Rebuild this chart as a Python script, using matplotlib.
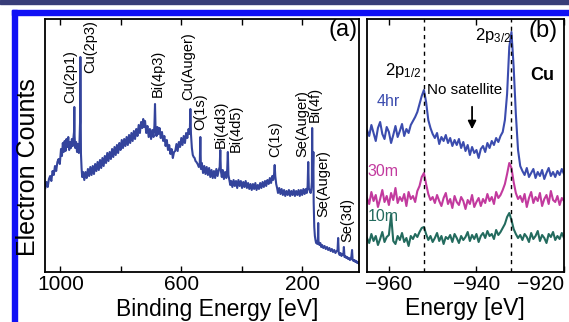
import numpy as np
import matplotlib
matplotlib.use('Agg')
import matplotlib.pyplot as plt
from matplotlib.patches import Rectangle

plt.rcParams['font.family'] = ['Liberation Sans', 'DejaVu Sans']
plt.rcParams['mathtext.fontset'] = 'custom'
plt.rcParams['mathtext.rm'] = 'Liberation Sans'
plt.rcParams['mathtext.it'] = 'Liberation Sans:italic'
plt.rcParams['mathtext.bf'] = 'Liberation Sans:bold'

# (a) survey spectrum, binding energy [eV] and counts (arb.)
survey_e = [1050, 1046, 1042, 1038, 1034, 1030, 1026, 1022, 1018, 1014, 1010, 1006, 1002, 998, 995,
            992, 989, 986, 983, 980, 977, 974, 971, 968, 965, 962, 959, 957, 955, 954, 953, 951,
            948, 945, 942, 939, 937, 935, 934, 933, 932, 930, 928, 925, 921, 917, 913, 909, 905,
            901, 897, 893, 889, 885, 881, 877, 873, 869, 865, 861, 857, 853, 849, 845, 841, 837,
            833, 829, 825, 821, 817, 813, 809, 805, 801, 797, 793, 789, 785, 781, 777, 773, 769,
            765, 761, 757, 753, 749, 745, 741, 737, 733, 729, 726, 723, 720, 716, 712, 708, 704,
            700, 696, 692, 689, 687, 685, 682, 679, 676, 672, 668, 664, 660, 656, 652, 648, 644,
            640, 636, 632, 628, 624, 620, 616, 612, 608, 604, 600, 596, 592, 588, 584, 580, 576,
            572, 570, 568, 565, 562, 559, 556, 553, 550, 546, 542, 539, 537, 535, 532, 528, 524,
            520, 516, 512, 508, 504, 500, 496, 492, 488, 484, 480, 476, 473, 471, 469, 466, 463,
            459, 455, 451, 448, 446, 444, 441, 438, 435, 431, 427, 423, 419, 415, 411, 407, 403,
            399, 395, 391, 387, 383, 379, 375, 371, 367, 363, 359, 355, 351, 347, 343, 339, 335,
            331, 327, 323, 319, 315, 311, 307, 303, 299, 296, 293, 291, 289, 286, 283, 280, 276,
            272, 268, 264, 260, 256, 252, 248, 244, 240, 236, 232, 228, 224, 220, 216, 212, 208,
            204, 200, 196, 192, 188, 185, 182, 180, 178, 175, 172, 170, 168, 167, 166, 165, 163,
            162, 160, 158, 156, 154, 152, 150, 148, 147, 146, 143, 140, 137, 134, 130, 126, 122,
            118, 114, 110, 106, 102, 98, 94, 90, 86, 83, 81, 79, 76, 73, 70, 67, 64, 62, 60, 57,
            54, 51, 48, 45, 42, 39, 37, 35, 33, 30, 27, 24, 21, 18, 15, 12]
survey_counts = [84, 90, 85, 93, 96, 91, 101, 97, 106, 101, 110, 113, 108, 123, 116,
                 129, 120, 131, 121, 133, 125, 135, 122, 130, 124, 133, 126, 134, 140, 165, 136, 124,
                 130, 120, 128, 119, 129, 150, 215, 160, 118, 104, 95, 100, 92, 100, 94, 103, 96,
                 105, 97, 106, 98, 108, 101, 110, 102, 112, 104, 114, 106, 116, 109, 119, 111, 120,
                 113, 123, 115, 125, 117, 127, 119, 129, 122, 132, 124, 133, 126, 135, 127, 137, 129,
                 139, 131, 141, 133, 143, 136, 147, 139, 150, 144, 153, 145, 151, 139, 146, 135, 143,
                 133, 142, 135, 146, 168, 141, 136, 145, 138, 144, 134, 140, 131, 136, 126, 132, 122,
                 127, 118, 123, 114, 120, 121, 128, 121, 130, 125, 134, 127, 136, 129, 139, 134, 143,
                 138, 163, 138, 124, 117, 115, 114, 111, 110, 108, 105, 107, 135, 103, 109, 99, 106,
                 98, 105, 97, 104, 95, 102, 94, 101, 94, 103, 96, 102, 105, 122, 101, 95, 102,
                 93, 100, 94, 103, 120, 97, 92, 87, 91, 85, 92, 86, 91, 84, 92, 86, 91,
                 84, 90, 85, 91, 84, 89, 83, 88, 82, 88, 83, 89, 82, 87, 83, 89, 84,
                 90, 85, 91, 86, 92, 88, 94, 89, 96, 92, 98, 107, 96, 88, 84, 79, 84,
                 78, 83, 77, 82, 76, 81, 77, 82, 76, 81, 77, 82, 76, 81, 77, 82, 76,
                 82, 77, 83, 78, 83, 79, 86, 110, 84, 81, 79, 82, 90, 144, 100, 96, 120,
                 70, 45, 36, 32, 29, 31, 28, 33, 49, 31, 27, 29, 25, 27, 24, 26, 23,
                 25, 22, 24, 21, 23, 20, 22, 19, 21, 22, 34, 19, 17, 19, 16, 18, 17, 25, 15, 16,
                 14, 15, 13, 14, 12, 13, 16, 22, 12, 11, 12, 10, 11, 9, 10, 8]

survey_labels = ['Cu(2p1)', 'Cu(2p3)', 'Bi(4p3)', 'Cu(Auger)', 'O(1s)', 'Bi(4d3)', 'Bi(4d5)',
                 'C(1s)', 'Se(Auger)', 'Bi(4f)', 'Se(Auger)', 'Se(3d)']
label_e = [967, 901, 679, 577, 537, 471, 421, 289, 200, 157, 131, 51]
label_v = [169, 199, 175, 172, 142, 124, 120, 115, 115, 150, 55, 30]

# (b) Cu 2p region for three deposition times
cu_e = np.arange(-965.0, -919.75, 0.5)
cu_4hr = [142, 136, 147, 139, 131, 144, 150, 138, 133, 145, 140, 129, 137, 146, 135, 141, 148, 136, 143, 139, 147,
          151, 155, 160, 168, 176, 182, 170, 152, 144, 138,
          134, 139, 128, 135, 131, 137,
          129, 134, 126, 132, 127, 133, 124, 130,
          121, 127, 117, 125, 119, 122, 114, 123,
          126, 120, 129, 124, 131, 127, 134, 130,
          136, 140, 152, 178, 225, 240, 205, 158, 122, 106,
          101, 97, 104, 95, 99, 103, 94, 100, 96, 102, 93, 99, 104, 96, 100, 95, 101, 97, 103, 98]
cu_30m = [74, 68, 80, 71, 77, 65, 73, 82, 70, 76, 67, 79, 72, 84, 69, 75, 71, 78, 66, 80, 73,
          76, 70, 81, 86, 95, 99, 88, 78, 72, 75,
          69, 77, 71, 66, 74, 79,
          68, 73, 64, 76, 70, 67, 75, 71,
          63, 72, 68, 77, 65, 70, 74, 66,
          73, 69, 78, 71, 75, 68, 80, 74,
          77, 82, 88, 98, 109, 104, 90, 79, 73, 76,
          70, 78, 65, 74, 80, 69, 75, 71, 79, 66, 73, 77, 68, 81, 72, 70, 76, 67, 74, 71]
cu_10m = [34, 29, 38, 31, 36, 27, 33, 40, 30, 35, 37, 57, 31, 28, 36, 32, 39, 30, 34, 26, 36,
          33, 38, 35, 40, 44, 45, 38, 32, 36, 30,
          34, 39, 31, 36, 28, 35,
          33, 37, 30, 38, 34, 29, 36, 32,
          35, 40, 31, 37, 33, 38, 30, 36,
          39, 34, 41, 36, 38, 33, 42, 37,
          40, 44, 48, 55, 59, 52, 43, 38, 34, 37,
          32, 38, 35, 30, 39, 33, 36, 41, 31, 37, 34, 29, 38, 35, 40, 32, 36, 33, 39, 34]
peak_e = [-952.0, -932.2]

W, H = 569, 322
fig = plt.figure(figsize=(W / 100, H / 100), dpi=100)

# frame of the page the figure was cut from
fig.patches.append(Rectangle((0, 1 - 4 / H), 1, 4 / H, transform=fig.transFigure, color='#383d78', zorder=0))
fig.patches.append(Rectangle((12 / W, 1 - 15 / H), 1, 5 / H, transform=fig.transFigure, color='#1010f5', zorder=0))
fig.patches.append(Rectangle((12 / W, 0), 5 / W, 1 - 10 / H, transform=fig.transFigure, color='#1010f5', zorder=0))

ax1 = fig.add_axes([45 / W, 50 / H, 314 / W, 253 / H])
ax2 = fig.add_axes([367 / W, 50 / H, 197 / W, 253 / H])

ax1.plot(survey_e, survey_counts, color='#34449c', lw=1.5)
ax1.set_xlim(1051, 12)
ax1.set_ylim(0, 253)
ax1.set_xticks([1000, 800, 600, 400, 200])
ax1.set_xticklabels(['1000', '', '600', '', '200'])
for lab, e, v in zip(survey_labels, label_e, label_v):
    ax1.text(e, v, lab, rotation=90, ha='center', va='bottom', fontsize=10.5)
ax1.text(0.995, 1.0, '(a)', transform=ax1.transAxes, ha='right', va='top', fontsize=17)

ax2.plot(cu_e, cu_4hr, color='#3b4cae', lw=1.5)
ax2.plot(cu_e, cu_30m, color='#c23a9e', lw=1.5)
ax2.plot(cu_e, cu_10m, color='#236b5e', lw=1.5)
for e in peak_e:
    ax2.axvline(e, color='k', lw=1.0, ls=(0, (3, 3)))
ax2.set_xlim(-965, -920)
ax2.set_ylim(0, 253)
ax2.set_xticks([-960, -940, -920])
ax2.text(-962.7, 166, '4hr', color='#3b4cae', fontsize=11.5, ha='left', va='baseline')
ax2.text(-964.8, 96, '30m', color='#c23a9e', fontsize=11.5, ha='left', va='baseline')
ax2.text(-964.8, 51, '10m', color='#236b5e', fontsize=11.5, ha='left', va='baseline')
ax2.text(-960.9, 202, r'2p$_\mathrm{1/2}$', fontsize=12, ha='left', va='center')
ax2.text(-940.3, 237, r'2p$_\mathrm{3/2}$', fontsize=12, ha='left', va='center')
ax2.text(-927.8, 197, 'Cu', fontsize=13, fontweight='bold', ha='left', va='center')
ax2.text(-951.3, 182, 'No satellite', fontsize=11, ha='left', va='center')
ax2.annotate('', xy=(-941.0, 140), xytext=(-941.0, 168),
             arrowprops=dict(arrowstyle='-|>', color='k', lw=1.3, mutation_scale=12))
ax2.text(0.97, 0.995, '(b)', transform=ax2.transAxes, ha='right', va='top', fontsize=17)

for ax in (ax1, ax2):
    ax.set_yticks([])
    ax.tick_params(axis='x', direction='in', top=True, length=4, width=1, labelsize=15, pad=2)
    for s in ax.spines.values():
        s.set_linewidth(1.3)

# last label of (b) sits inside the figure, right-aligned on its tick
ax2.get_xticklabels()[-1].set_horizontalalignment('right')

fig.text(28 / W, 1 - 167 / H, 'Electron Counts', rotation=90, ha='center', va='center', fontsize=18)
fig.text(217 / W, 1 - 316 / H, 'Binding Energy [eV]', ha='center', va='baseline', fontsize=16.5)
fig.text(465 / W, 1 - 315 / H, 'Energy [eV]', ha='center', va='baseline', fontsize=16.5)

fig.savefig('out.png', dpi=100)
